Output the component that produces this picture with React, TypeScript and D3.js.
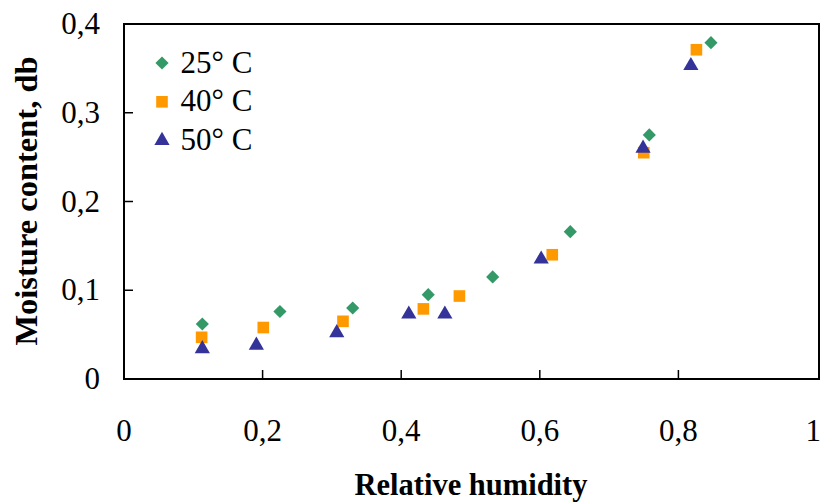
import React from 'react'
import * as d3 from 'd3'

// relative humidity / moisture content (db)
const rh25 = [0.113, 0.225, 0.33, 0.439, 0.532, 0.644, 0.758, 0.847]
const mc25 = [0.062, 0.076, 0.08, 0.095, 0.115, 0.166, 0.275, 0.379]
const rh40 = [0.112, 0.201, 0.316, 0.432, 0.484, 0.618, 0.75, 0.826]
const mc40 = [0.047, 0.058, 0.065, 0.079, 0.0935, 0.14, 0.255, 0.371]
const rh50 = [0.113, 0.191, 0.307, 0.411, 0.463, 0.602, 0.749, 0.818]
const mc50 = [0.034, 0.038, 0.052, 0.073, 0.073, 0.135, 0.26, 0.353]

const xTicks = [0, 0.2, 0.4, 0.6, 0.8, 1]
const yTicks = [0, 0.1, 0.2, 0.3, 0.4]
const seriesNames = ['25° C', '40° C', '50° C']

const W = 822
const H = 503
const margin = { left: 124, right: 3, top: 24, bottom: 124 }
const font = '"Liberation Serif", "Times New Roman", serif'

const fmt = (v: number) => (v === 0 || v === 1 ? String(v) : String(v).replace('.', ','))

export default function App() {
  const x = d3.scaleLinear().domain([0, 1]).range([margin.left, W - margin.right - 2])
  const y = d3.scaleLinear().domain([0, 0.4]).range([H - margin.bottom, margin.top])

  const diamond = d3.symbol().type(d3.symbolDiamond2).size(110)()
  const square = d3.symbol().type(d3.symbolSquare).size(135)()
  const triangle = d3.symbol().type(d3.symbolTriangle).size(100)()

  const series = [
    { name: seriesNames[0], xs: rh25, ys: mc25, path: diamond, color: '#339966' },
    { name: seriesNames[1], xs: rh40, ys: mc40, path: square, color: '#FF9900' },
    { name: seriesNames[2], xs: rh50, ys: mc50, path: triangle, color: '#333399' },
  ]

  const x0 = x(0)
  const x1 = W - margin.right
  const y0 = y(0)
  const y1 = y(0.4)

  return (
    <svg width={W} height={H} style={{ position: 'absolute', left: 0, top: 0 }} fontFamily={font}>
      <rect x={0} y={0} width={W} height={H} fill="#fff" />
      {/* plot frame */}
      <rect x={x0} y={y1} width={x1 - x0} height={y0 - y1} fill="none" stroke="#000" strokeWidth={2} />
      {/* ticks point inward */}
      {xTicks.slice(1, -1).map((t) => (
        <line key={'xt' + t} x1={x(t)} x2={x(t)} y1={y0} y2={y0 - 9} stroke="#000" strokeWidth={1.5} />
      ))}
      {yTicks.slice(1, -1).map((t) => (
        <line key={'yt' + t} x1={x0} x2={x0 + 9} y1={y(t)} y2={y(t)} stroke="#000" strokeWidth={1.5} />
      ))}
      {xTicks.map((t, i) => (
        <text
          key={'xl' + t}
          x={i === xTicks.length - 1 ? W - 1 : x(t)}
          y={441}
          textAnchor={i === xTicks.length - 1 ? 'end' : 'middle'}
          fontSize={31}
        >
          {fmt(t)}
        </text>
      ))}
      {yTicks.map((t) => (
        <text key={'yl' + t} x={100} y={y(t) + 10} textAnchor="end" fontSize={31}>
          {fmt(t)}
        </text>
      ))}
      <text x={471} y={495} textAnchor="middle" fontSize={30.5} fontWeight="bold">
        Relative humidity
      </text>
      <text
        transform={`translate(37, 201) rotate(-90)`}
        textAnchor="middle"
        fontSize={32.5}
        fontWeight="bold"
      >
        Moisture content, db
      </text>
      {series.map((s) => (
        <g key={s.name} fill={s.color}>
          {s.xs.map((v, i) => (
            <path key={i} d={s.path ?? ''} transform={`translate(${x(v)},${y(s.ys[i])})`} />
          ))}
        </g>
      ))}
      {/* legend */}
      {series.map((s, i) => (
        <g key={'lg' + s.name} transform={`translate(162, ${63 + i * 38.8})`}>
          <path d={s.path ?? ''} fill={s.color} />
          <text x={18.5} y={9.5} fontSize={31}>
            {s.name}
          </text>
        </g>
      ))}
    </svg>
  )
}
